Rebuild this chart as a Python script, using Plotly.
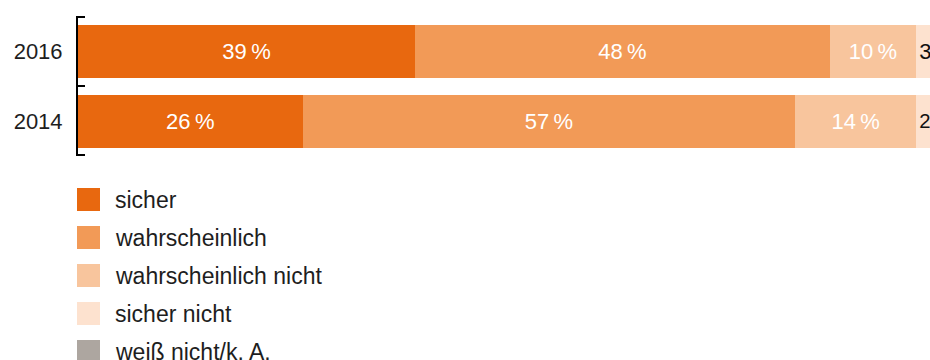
import plotly.graph_objects as go

# ---- data ----
years = ["2016", "2014"]
series_names = ["sicher", "wahrscheinlich", "wahrscheinlich nicht", "sicher nicht", "weiß nicht/k. A."]
sicher = [39, 26]
wahrscheinlich = [48, 57]
wahrscheinlich_nicht = [10, 14]
sicher_nicht = [3, 2]
weiss_nicht = [0, 1]
values = [sicher, wahrscheinlich, wahrscheinlich_nicht, sicher_nicht, weiss_nicht]

colors = ["#E8680F", "#F29A57", "#F8C59D", "#FDE2CF", "#ADA6A0"]
text_colors = ["#FFFFFF", "#FFFFFF", "#FFFFFF", "#111111", "#111111"]
with_pct = [True, True, True, False, False]

FONT = "Liberation Sans, Arial, Helvetica, sans-serif"

W, H = 930, 360
ML, MR, MT, MB = 78, 0, 16, 204
PW = W - ML - MR
PH = H - MT - MB
n = len(years)
end_pad = 1.5 / (PH / n)   # keeps the outer boundary ticks just inside the plot edges

fig = go.Figure()
for name, vals, col, tcol, pct in zip(series_names, values, colors, text_colors, with_pct):
    labels = [(f"{v}\u2009%" if pct else f"{v}") if v > 0 else "" for v in vals]
    fig.add_trace(go.Bar(
        y=years, x=vals, name=name, orientation="h",
        marker=dict(color=col, line=dict(width=0)),
        text=labels, textposition="inside", textangle=0,
        insidetextanchor="middle" if pct else "start",
        textfont=dict(color=tcol, size=22, family=FONT),
        hoverinfo="skip", showlegend=False,
    ))

# helper axis (y2) carrying the two outer boundary ticks
outer_bounds = [-0.5, n - 0.5]
fig.add_trace(go.Scatter(
    x=[0, 0], y=outer_bounds, yaxis="y2", mode="markers",
    marker=dict(opacity=0, size=1), hoverinfo="skip", showlegend=False,
))

def px_to_paper_x(px):
    return (px - ML) / PW

def px_to_paper_y(py):
    return (MT + PH - py) / PH

shapes = []
annotations = []
for i, (name, col) in enumerate(zip(series_names, colors)):
    cy = 199.5 + 38 * i
    shapes.append(dict(
        type="rect", xref="paper", yref="paper",
        x0=px_to_paper_x(77), x1=px_to_paper_x(100),
        y0=px_to_paper_y(cy - 11.5), y1=px_to_paper_y(cy + 11.5),
        fillcolor=col, line=dict(width=0), layer="above",
    ))
    annotations.append(dict(
        text=name, xref="paper", yref="paper",
        x=px_to_paper_x(113), y=px_to_paper_y(cy),
        xanchor="left", yanchor="middle", showarrow=False,
        font=dict(size=23, color="#1E1E1E", family=FONT),
    ))

fig.update_layout(
    width=W, height=H,
    margin=dict(l=ML, r=MR, t=MT, b=MB, pad=0),
    barmode="stack", bargap=0.243,
    plot_bgcolor="white", paper_bgcolor="white",
    font=dict(family=FONT, color="#1E1E1E"),
    shapes=shapes, annotations=annotations,
    showlegend=False,
    xaxis=dict(range=[0, 98.6], visible=False, showgrid=False, zeroline=False, fixedrange=True),
    yaxis=dict(
        type="category", categoryorder="array", categoryarray=years,
        range=[n - 0.5, -0.5],
        showline=True, linecolor="black", linewidth=2,
        ticks="inside", tickson="boundaries", ticklen=7, tickwidth=2, tickcolor="black",
        tickfont=dict(size=22, color="#1E1E1E", family=FONT),
        ticklabelstandoff=9,
        showgrid=False, zeroline=False, fixedrange=True,
    ),
    yaxis2=dict(
        overlaying="y", side="left", anchor="x",
        tickmode="array", tickvals=outer_bounds, showticklabels=False,
        range=[n - 0.5 + end_pad, -0.5 - end_pad],
        showline=False,
        ticks="inside", ticklen=7, tickwidth=2, tickcolor="black",
        showgrid=False, zeroline=False, fixedrange=True,
    ),
)

fig.write_html("out.html")
